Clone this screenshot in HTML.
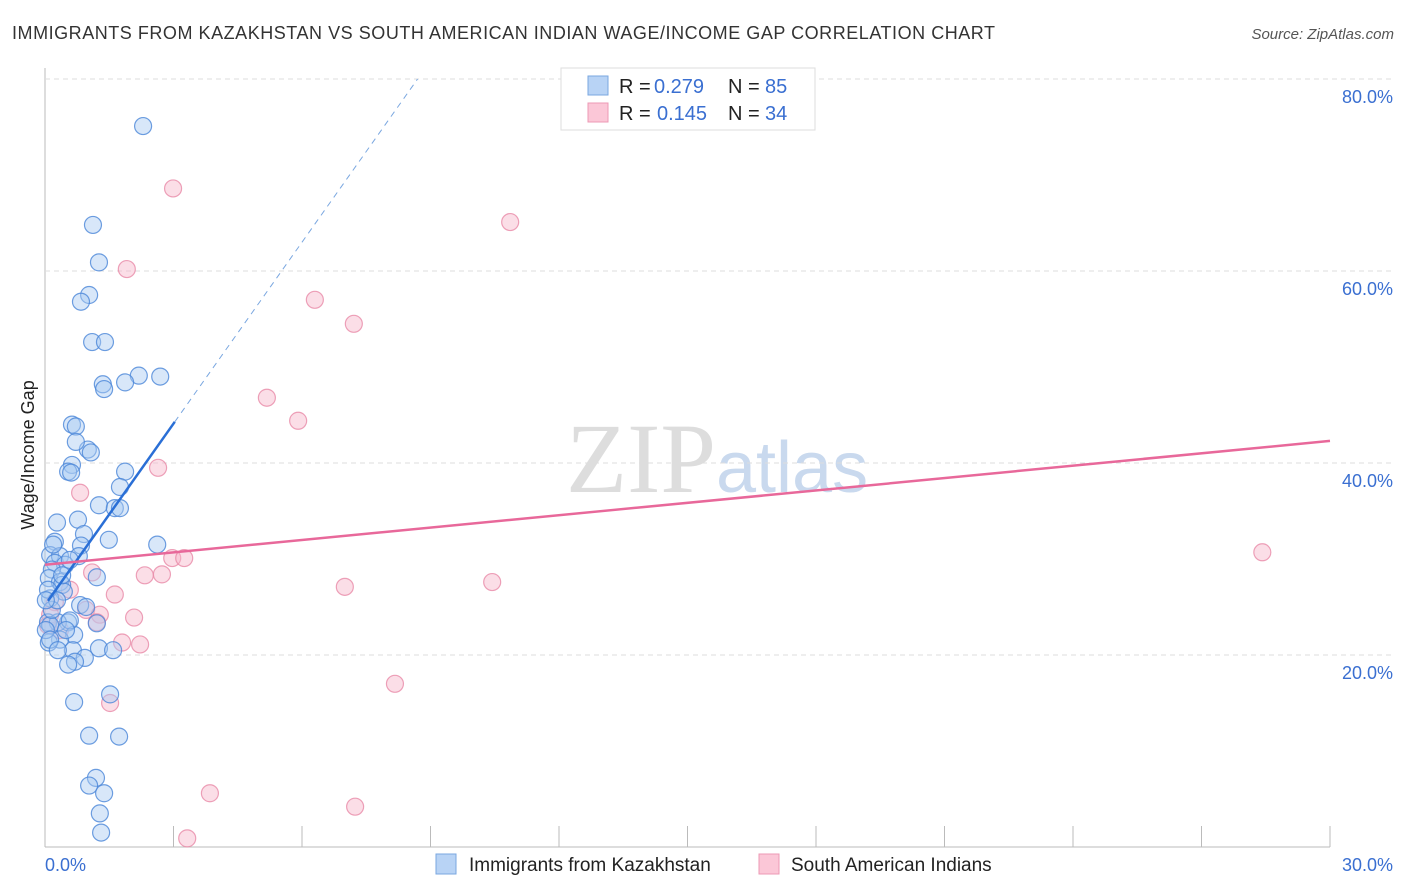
<!DOCTYPE html>
<html><head><meta charset="utf-8"><style>
body{margin:0;background:#fff;font-family:"Liberation Sans",sans-serif;}
#wrap{position:relative;width:1406px;height:892px;overflow:hidden;}
</style></head><body>
<div id="wrap">
<svg id="svg" width="1406" height="892">
<text x="12" y="39" font-size="18" fill="#333" textLength="983" lengthAdjust="spacing">IMMIGRANTS FROM KAZAKHSTAN VS SOUTH AMERICAN INDIAN WAGE/INCOME GAP CORRELATION CHART</text>
<text x="1394" y="39" font-size="15" fill="#555" font-style="italic" text-anchor="end">Source: ZipAtlas.com</text>
<text x="716" y="492" font-size="100" fill="#ddd" text-anchor="end" font-family="Liberation Serif">ZIP</text>
<text x="716" y="492" font-size="72" fill="#c9d9ee">atlas</text>
<text transform="translate(34,455) rotate(-90)" font-size="18" fill="#222" text-anchor="middle">Wage/Income Gap</text>
<g id="grid"></g><g id="marks"></g><g id="trend"></g>
<g>
<rect x="561" y="68" width="254" height="62" fill="#fff" stroke="#ddd"/>
<rect x="588" y="76" width="20" height="19" fill="#b8d3f5" stroke="#7aa7e0"/>
<rect x="588" y="103" width="20" height="19" fill="#fbc7d7" stroke="#ec9ab4"/>
<text x="619" y="93" font-size="20" fill="#222">R =</text>
<text x="654" y="93" font-size="20" fill="#3a6fd1">0.279</text>
<text x="728" y="93" font-size="20" fill="#222">N =</text>
<text x="765" y="93" font-size="20" fill="#3a6fd1">85</text>
<text x="619" y="120" font-size="20" fill="#222">R =</text>
<text x="657" y="120" font-size="20" fill="#3a6fd1">0.145</text>
<text x="728" y="120" font-size="20" fill="#222">N =</text>
<text x="765" y="120" font-size="20" fill="#3a6fd1">34</text>
</g>
<g>
<rect x="436" y="854" width="20" height="20" fill="#b8d3f5" stroke="#7aa7e0"/>
<text x="469" y="871" font-size="19" fill="#222">Immigrants from Kazakhstan</text>
<rect x="759" y="854" width="20" height="20" fill="#fbc7d7" stroke="#ec9ab4"/>
<text x="791" y="871" font-size="19" fill="#222">South American Indians</text>
</g>
<text x="45" y="871" font-size="18" fill="#3a6fd1">0.0%</text>
<text x="1393" y="871" font-size="18" fill="#3a6fd1" text-anchor="end">30.0%</text>
</svg>
</div>
<script>
const yTicks=[20,40,60,80];
const xTicks=[0,3,6,9,12,15,18,21,24,27,30];
const blueX=[2.29,1.12,1.26,1.03,0.84,1.10,1.40,2.19,2.69,1.87,1.35,1.38,0.63,0.72,1.00,1.07,0.72,0.63,0.54,0.61,1.87,1.75,1.26,1.63,1.75,0.28,0.77,0.91,0.84,1.49,2.62,0.23,0.12,0.35,0.79,0.23,0.47,0.16,0.09,0.35,1.21,0.40,0.44,0.12,0.82,0.96,0.54,0.07,0.30,0.12,1.21,0.68,0.35,0.09,0.65,1.26,1.59,0.93,0.70,0.54,0.68,1.52,1.03,1.73,1.19,1.03,1.38,1.28,1.31,0.58,0.49,0.16,0.07,0.28,0.40,0.58,0.19,0.02,0.02,0.12,0.30];
const blueY=[75.1,64.8,60.9,57.5,56.8,52.6,52.6,49.1,49.0,48.4,48.2,47.7,44.0,43.8,41.4,41.1,42.2,39.8,39.1,39.0,39.1,37.5,35.6,35.3,35.3,33.8,34.1,32.6,31.4,32.0,31.5,31.8,30.4,30.3,30.3,29.6,29.4,28.9,28.0,27.6,28.1,27.3,26.6,25.9,25.2,25.0,23.4,23.4,23.4,23.1,23.3,22.1,21.6,21.3,20.5,20.7,20.5,19.7,19.3,19.0,15.1,15.9,11.6,11.5,7.2,6.4,5.6,3.5,1.5,23.6,22.6,24.7,26.8,25.7,28.3,29.9,31.5,25.7,22.6,21.6,20.5];
const pinkX=[2.99,10.86,1.91,6.30,7.21,5.18,5.91,2.64,0.82,28.42,2.97,3.25,2.33,2.73,1.10,7.00,10.44,1.63,0.23,0.96,1.28,2.08,1.21,0.07,1.80,2.22,8.17,1.52,3.85,7.24,3.32,0.35,0.12,0.58];
const pinkY=[68.6,65.1,60.2,57.0,54.5,46.8,44.4,39.5,36.9,30.7,30.1,30.1,28.3,28.4,28.6,27.1,27.6,26.3,25.5,24.7,24.2,23.9,23.4,23.1,21.3,21.1,17.0,15.0,5.6,4.2,0.9,22.6,24.2,26.8];
const blueTrend=[25.2,6.3]; // intercept, slope
const pinkTrend=[29.4,0.43];
const NS='http://www.w3.org/2000/svg';
const X=v=>45+v/30*1285, Y=v=>847-v*9.6;
function mk(t,a,p){const e=document.createElementNS(NS,t);for(const k in a)e.setAttribute(k,a[k]);p.appendChild(e);return e;}
const g=document.getElementById('grid'),m=document.getElementById('marks'),tr=document.getElementById('trend');
mk('line',{x1:45,y1:68,x2:45,y2:847,stroke:'#bbb'},g);
mk('line',{x1:45,y1:847,x2:1330,y2:847,stroke:'#bbb'},g);
yTicks.forEach(t=>{const l=mk('line',{x1:45,y1:Y(t),x2:1393,y2:Y(t),stroke:'#ddd','stroke-dasharray':'5,4'},g);


const tx=mk('text',{x:1393,y:Y(t)+24,'font-size':18,fill:'#3a6fd1','text-anchor':'end'},g);tx.textContent=t.toFixed(1)+'%';

});
xTicks.forEach(t=>{const l=mk('line',{x1:X(t),y1:826,x2:X(t),y2:847,stroke:'#bbb'},g);

});
function pts(xs,ys,f,s,n){xs.forEach((x,i)=>{const c=mk('circle',{cx:X(x),cy:Y(ys[i]),r:8.5,fill:f,'fill-opacity':0.45,stroke:s,'stroke-opacity':0.8,'stroke-width':1.2},m);

});}
pts(pinkX,pinkY,'#f7b6c9','#e889a8','pink-point');
pts(blueX,blueY,'#a9c9f2','#4a86d8','blue-point');
const bx0=0.07,bx1=3.03,bx2=(80-blueTrend[0])/blueTrend[1];
let l=mk('line',{x1:X(bx0),y1:Y(blueTrend[0]+blueTrend[1]*bx0),x2:X(bx1),y2:Y(blueTrend[0]+blueTrend[1]*bx1),stroke:'#2a6fd6','stroke-width':2.5},tr);


l=mk('line',{x1:X(bx1),y1:Y(blueTrend[0]+blueTrend[1]*bx1),x2:X(bx2),y2:Y(80),stroke:'#7aa7e0','stroke-width':1,'stroke-dasharray':'6,5'},tr);


l=mk('line',{x1:X(0),y1:Y(pinkTrend[0]),x2:X(30),y2:Y(pinkTrend[0]+pinkTrend[1]*30),stroke:'#e8689a','stroke-width':2.5},tr);


</script>
</body></html>
